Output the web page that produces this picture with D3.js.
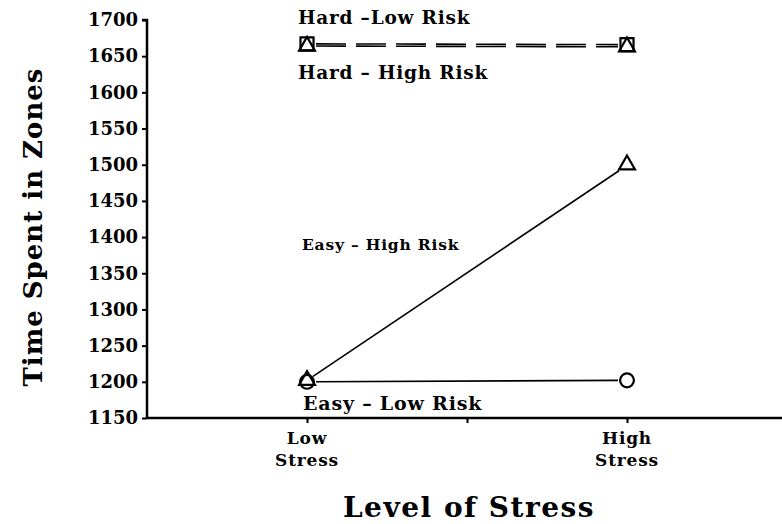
<!DOCTYPE html>
<html>
<head>
<meta charset="utf-8">
<script src="https://cdn.jsdelivr.net/npm/d3@7"></script>
<style>
  body { margin: 0; background: #fff; }
  text { font-family: "DejaVu Serif", "Liberation Serif", serif; fill: #000; }
</style>
</head>
<body>
<div id="chart"></div>
<script>
// data
var stressLevels = [0, 2];            // positions on the x scale
var stressLabels = [["Low", "Stress"], ["High", "Stress"]];
var easyLowRisk  = [1200, 1202];
var easyHighRisk = [1202, 1500];
var hardLowRisk  = [1667, 1666];
var hardHighRisk = [1664, 1663];
var yTicks = [1150, 1200, 1250, 1300, 1350, 1400, 1450, 1500, 1550, 1600, 1650, 1700];

var svgWidth = 782;
var svgHeight = 524;

var svg = d3.select("#chart")
            .append("svg")
            .attr("width", svgWidth)
            .attr("height", svgHeight);

var xScale = d3.scaleLinear()
               .domain([-1, 3])
               .range([147, 787]);
var yScale = d3.scaleLinear()
               .domain([1150, 1700])
               .range([418, 20]);

// axes
var leftAxis = d3.axisLeft(yScale)
                 .tickValues(yTicks)
                 .tickSize(5)
                 .tickFormat(d3.format("d"));
var gy = svg.append("g")
            .attr("transform", `translate(${xScale(-1)},0)`)
            .call(leftAxis);
gy.select(".domain").attr("stroke-width", 2.5).attr("d", `M-5,${yScale(1700)}H0V${yScale(1150)}`);
gy.selectAll(".tick line").attr("stroke-width", 2);
gy.selectAll(".tick text")
  .attr("x", -9)
  .attr("font-size", 18)
  .attr("font-weight", "bold")
  .style("font-family", "'DejaVu Serif', serif");

var bottomAxis = d3.axisBottom(xScale)
                   .tickValues([0, 1, 2])
                   .tickSize(5)
                   .tickFormat("");
var gx = svg.append("g")
            .attr("transform", `translate(0,${yScale(1150)})`)
            .call(bottomAxis);
gx.select(".domain").attr("stroke-width", 2.5).attr("d", `M${xScale(-1)},0H782`);
gx.selectAll(".tick line").attr("stroke-width", 2);

// category labels
stressLabels.forEach(function(lines, i) {
    var t = svg.append("text")
               .attr("x", xScale(stressLevels[i]))
               .attr("y", 444)
               .attr("text-anchor", "middle")
               .attr("font-size", 17)
               .attr("font-weight", "bold")
               .attr("letter-spacing", 0.8);
    lines.forEach(function(s, j) {
        t.append("tspan")
         .attr("x", xScale(stressLevels[i]))
         .attr("dy", j == 0 ? 0 : 22)
         .text(s);
    });
});

// lines
var mx0 = xScale(0) + 9, mx1 = xScale(2) - 9;
var lineInset = d3.line()
                  .x((d, i) => i == 0 ? mx0 : mx1)
                  .y(d => yScale(d));

svg.append("path").datum(easyLowRisk).attr("d", lineInset)
   .attr("fill", "none").attr("stroke", "#000").attr("stroke-width", 1.6);
svg.append("path").datum(easyHighRisk)
   .attr("d", d3.line().x((d, i) => i == 0 ? xScale(0) + 6 : xScale(2) - 8).y((d, i) => yScale(d) - (i == 0 ? 4 : -6)))
   .attr("fill", "none").attr("stroke", "#000").attr("stroke-width", 1.6);
svg.append("path").datum(hardLowRisk).attr("d", lineInset)
   .attr("fill", "none").attr("stroke", "#000").attr("stroke-width", 1.6)
   .attr("stroke-dasharray", "30,10");
svg.append("path").datum(hardHighRisk).attr("d", lineInset)
   .attr("fill", "none").attr("stroke", "#000").attr("stroke-width", 1.6)
   .attr("stroke-dasharray", "30,10");

// markers
var symCircle = d3.symbol().type(d3.symbolCircle).size(150);
var symTriangle = d3.symbol().type(d3.symbolTriangle).size(110);
var symSquare = d3.symbol().type(d3.symbolSquare).size(170);

function drawMarkers(values, sym) {
    svg.selectAll(null)
       .data(values)
       .enter()
       .append("path")
       .attr("d", sym)
       .attr("transform", (d, i) => `translate(${xScale(stressLevels[i])},${yScale(d)})`)
       .attr("fill", "none")
       .attr("stroke", "#000")
       .attr("stroke-width", 2.2);
}
drawMarkers(easyLowRisk, symCircle);
drawMarkers(easyHighRisk, symTriangle);
drawMarkers(hardLowRisk, symSquare);
drawMarkers(hardHighRisk, symTriangle);

// series labels
var seriesLabels = [
    {text: "Hard \u2013Low Risk", x: 298, y: 24, size: 18.5},
    {text: "Hard \u2013 High Risk", x: 298, y: 79, size: 18.5},
    {text: "Easy \u2013 High Risk", x: 302, y: 250, size: 15.5},
    {text: "Easy \u2013 Low Risk", x: 303, y: 410, size: 19}
];
svg.selectAll(null)
   .data(seriesLabels)
   .enter()
   .append("text")
   .attr("x", d => d.x)
   .attr("y", d => d.y)
   .attr("font-size", d => d.size)
   .attr("font-weight", "bold")
   .attr("letter-spacing", 0.8)
   .text(d => d.text);

// axis titles
svg.append("text")
   .attr("transform", "rotate(-90)")
   .attr("x", -227)
   .attr("y", 42)
   .attr("text-anchor", "middle")
   .attr("font-size", 26)
   .attr("font-weight", "bold")
   .attr("letter-spacing", 1)
   .text("Time Spent in Zones");

svg.append("text")
   .attr("x", 469)
   .attr("y", 517)
   .attr("text-anchor", "middle")
   .attr("font-size", 28)
   .attr("font-weight", "bold")
   .attr("letter-spacing", 1.5)
   .text("Level of Stress");
</script>
</body>
</html>
